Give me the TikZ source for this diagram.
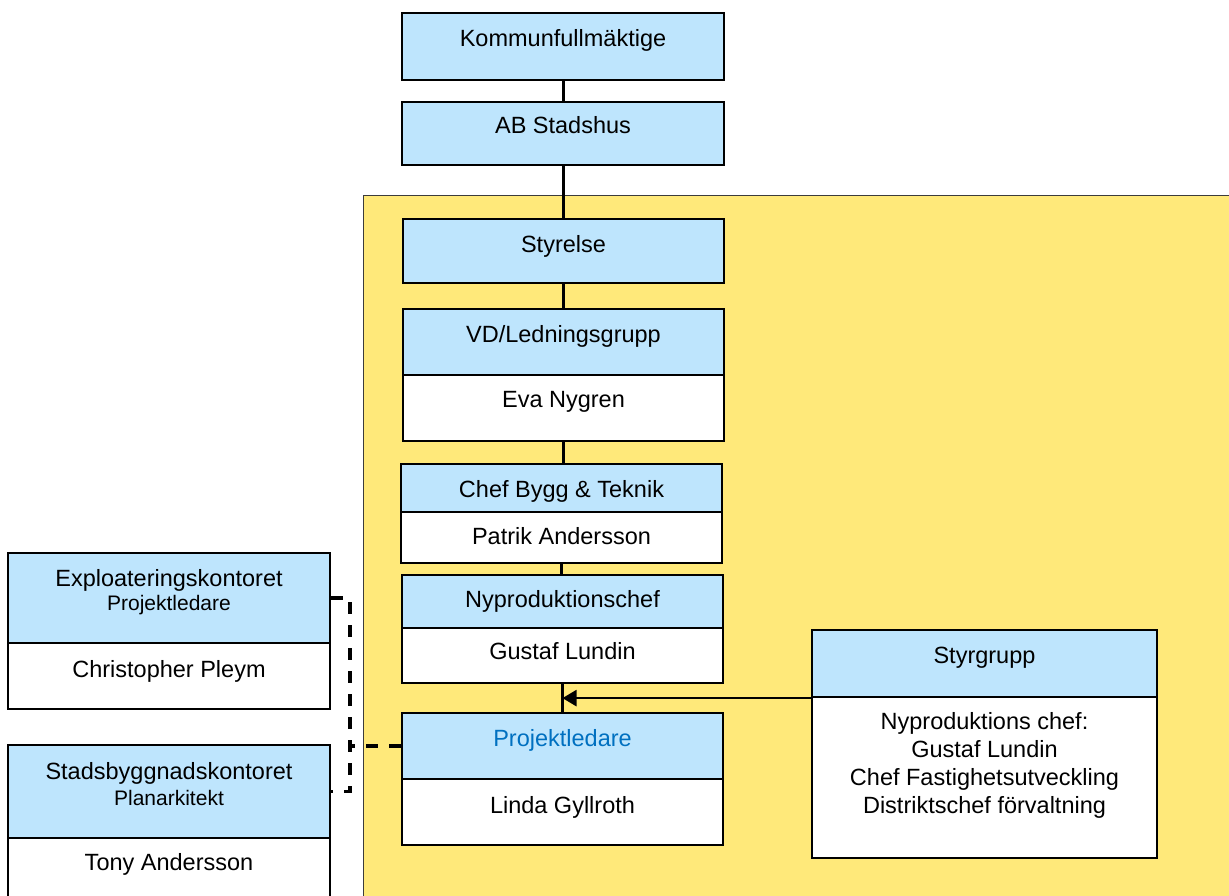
\documentclass[tikz,border=0pt]{standalone}
\usepackage{fontspec}
\setmainfont{Liberation Sans}
\usetikzlibrary{arrows.meta}
\definecolor{hdrblue}{RGB}{190,229,253}
\definecolor{bgyellow}{RGB}{255,233,122}
\definecolor{txtblue}{RGB}{0,112,192}
\definecolor{bordergrey}{RGB}{60,60,60}
\begin{document}
\begin{tikzpicture}[x=1pt,y=-1pt,
  hdr/.style={draw=black, line width=2.2pt, fill=hdrblue, inner sep=0pt},
  bodybox/.style={draw=black, line width=2.2pt, fill=white, inner sep=0pt},
  lbl/.style={anchor=base, inner sep=0pt, font=\fontsize{23.5}{27.7}\selectfont},
  small/.style={anchor=base, inner sep=0pt, font=\fontsize{21}{25}\selectfont},
  conn/.style={line width=3pt, draw=black},
  dashline/.style={line width=3.5pt, draw=black, dash pattern=on 12pt off 11pt},
  arr/.style={line width=2.6pt, draw=black, -{Triangle[length=14pt,width=16pt]}}]
\clip (0,0) rectangle (1229,895);
\fill[white] (0,0) rectangle (1229,895);
% yellow area
\draw[fill=bgyellow, draw=bordergrey, line width=1pt] (363,195) rectangle (1240,905);

% central column
\node[hdr, minimum width=322pt, minimum height=67pt] (k) at (563,46.5) {};
\node[hdr, minimum width=322pt, minimum height=63pt] (ab) at (563,133.5) {};
\node[hdr, minimum width=321pt, minimum height=64pt] (sty) at (563.5,251) {};
\node[hdr, minimum width=321pt, minimum height=66pt] (vdh) at (563.5,342) {};
\node[bodybox, minimum width=321pt, minimum height=66pt] (vdb) at (563.5,408) {};
\node[hdr, minimum width=321pt, minimum height=48pt] (chh) at (561.5,488) {};
\node[bodybox, minimum width=321pt, minimum height=51pt] (chb) at (561.5,537.5) {};
\node[hdr, minimum width=321pt, minimum height=53pt] (nyh) at (562.5,601.5) {};
\node[bodybox, minimum width=321pt, minimum height=55pt] (nyb) at (562.5,655.5) {};
\node[hdr, minimum width=321pt, minimum height=66pt] (pjh) at (562.5,746) {};
\node[bodybox, minimum width=321pt, minimum height=66pt] (pjb) at (562.5,812) {};
% steering group
\node[hdr, minimum width=345pt, minimum height=67pt] (sgh) at (984.5,663.5) {};
\node[bodybox, minimum width=345pt, minimum height=161pt] (sgb) at (984.5,777.5) {};
% left boxes
\node[hdr, minimum width=322pt, minimum height=90pt] (exh) at (169,598) {};
\node[bodybox, minimum width=322pt, minimum height=66pt] (exb) at (169,676) {};
\node[hdr, minimum width=322pt, minimum height=93pt] (sbh) at (169,791.5) {};
\node[bodybox, minimum width=322pt, minimum height=67pt] (sbb) at (169,871.5) {};

% texts
\node[lbl] (kt) at (563,46) {Kommunfullmäktige};
\node[lbl] (abt) at (563,133) {AB Stadshus};
\node[lbl] (styt) at (563.5,252) {Styrelse};
\node[lbl] (vdht) at (563.5,342) {VD/Ledningsgrupp};
\node[lbl] (vdbt) at (563.5,407) {Eva Nygren};
\node[lbl] (chht) at (561.5,497) {Chef Bygg \& Teknik};
\node[lbl] (chbt) at (561.5,544) {Patrik Andersson};
\node[lbl] (nyht) at (562.5,607) {Nyproduktionschef};
\node[lbl] (nybt) at (562.5,659) {Gustaf Lundin};
\node[lbl, text=txtblue] (pjht) at (562.5,746) {Projektledare};
\node[lbl] (pjbt) at (562.5,813) {Linda Gyllroth};
\node[lbl] (sght) at (984.5,663) {Styrgrupp};
\node[lbl, align=center] (sgbt) at (984.5,813) {Nyproduktions chef:\\Gustaf Lundin\\Chef Fastighetsutveckling\\Distriktschef förvaltning};
\node[lbl] (exht) at (169,586) {Exploateringskontoret};
\node[small] (exht2) at (169,610) {Projektledare};
\node[lbl] (exbt) at (169,677) {Christopher Pleym};
\node[lbl] (sbht) at (169,779) {Stadsbyggnadskontoret};
\node[small] (sbht2) at (169,805) {Planarkitekt};
\node[lbl] (sbbt) at (169,870) {Tony Andersson};

% connectors
\draw[conn] (k.south) -- (k.south |- ab.north);
\draw[conn] (ab.south) -- (ab.south |- sty.north);
\draw[conn] (sty.south) -- (sty.south |- vdh.north);
\draw[conn] (vdb.south) -- (vdb.south |- chh.north);
\draw[conn] (chb.south) -- (chb.south |- nyh.north);
\draw[conn] (nyb.south) -- (nyb.south |- pjh.north);
\coordinate (join) at (nyb.south |- sgh.south west);
\draw[arr] (sgh.south west) -- (join);
\path (exh.east) ++(19,0) coordinate (dtop);
\draw[dashline] (exh.east) -- (dtop) |- (sbh.east);
\draw[dashline] (pjh.west) -- (pjh.west -| dtop);
\end{tikzpicture}
\end{document}
